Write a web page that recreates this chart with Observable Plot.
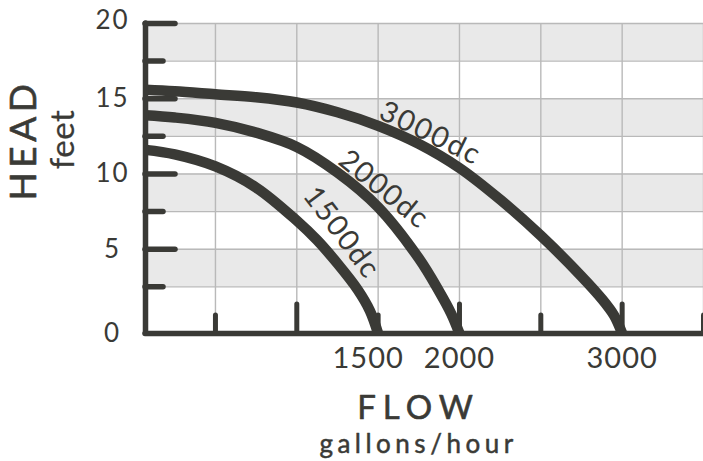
<!DOCTYPE html>
<html><head><meta charset="utf-8">
<script src="https://cdn.jsdelivr.net/npm/d3@7"></script>
<script src="https://cdn.jsdelivr.net/npm/@observablehq/plot@0.6"></script>
<style>
html,body{margin:0;padding:0;background:#fff}
svg{display:block}
</style>
</head><body><div id="chart"></div>
<script>
// ---- data ----
const axisHead = -0.6;          // head value where the x axis line sits
const flowMin = 70, flowMax = 3500, headMax = 20;

const flow1500 = [70, 250, 500, 750, 1000, 1125, 1250, 1375, 1450, 1500];
const head1500 = [11.6, 11.3, 10.5, 9.1, 6.9, 5.6, 4.05, 2.3, 0.9, -0.6];

const flow2000 = [70, 250, 500, 750, 1000, 1250, 1500, 1750, 1875, 1950, 2000];
const head2000 = [13.9, 13.75, 13.4, 12.75, 11.8, 10.1, 7.8, 4.4, 2.2, 0.7, -0.6];

const flow3000 = [70, 250, 500, 750, 1000, 1250, 1500, 1750, 2000, 2250, 2500, 2750, 2875, 2950, 3000];
const head3000 = [15.6, 15.5, 15.3, 15.1, 14.75, 14.1, 13.2, 12.0, 10.4, 8.3, 5.9, 3.2, 1.7, 0.6, -0.6];

const seriesNames = ["1500dc", "2000dc", "3000dc"];
const labelFlow = [1275, 1536, 1822];
const labelHead = [6.1, 8.97, 12.7];

const yMajor = [5, 10, 15, 20];
const yMinor = [2.5, 7.5, 12.5, 17.5];
const yLabels = [0, 5, 10, 15, 20];
const xMajor = [1000, 2000, 3000];
const xMinor = [500, 1500, 2500, 3500];
const xGrid = [500, 1000, 1500, 2000, 2500, 3000, 3500];
const yGrid = [2.5, 5, 7.5, 10, 12.5, 15, 17.5, 20];
const bandStart = [2.5, 7.5, 12.5, 17.5];
const bandEnd = [5, 10, 15, 20];
const xLabels = [1500, 2000, 3000];

// ---- build ----
const ink = "#3a3a36";
const font = "Lato, 'Noto Sans', sans-serif";
const toRows = (name, fs, hs) => fs.map((f, i) => ({name, flow: f, head: hs[i]}));
const curves = [
  ...toRows("1500dc", flow1500, head1500),
  ...toRows("2000dc", flow2000, head2000),
  ...toRows("3000dc", flow3000, head3000)
];
const labels = seriesNames.map((n, i) => ({name: n, flow: labelFlow[i], head: labelHead[i]}));
const bands = bandStart.map((s, i) => ({y1: s, y2: bandEnd[i]}));
const txt = {fill: ink, textAnchor: "middle", lineAnchor: "middle"};

const chart = Plot.plot({
  width: 703,
  height: 461,
  marginLeft: 145,
  marginRight: 0,
  marginTop: 23,
  marginBottom: 128,
  style: {fontFamily: font, color: ink, background: "#fff", overflow: "visible"},
  x: {domain: [flowMin, flowMax], axis: null},
  y: {domain: [axisHead, headMax], axis: null},
  marks: [
    Plot.rectY(bands, {x1: flowMin, x2: flowMax, y1: "y1", y2: "y2", fill: "#e9e9e9"}),
    Plot.ruleY(yGrid, {x1: flowMin, x2: flowMax, stroke: "#b9b9b9", strokeWidth: 1.4}),
    Plot.ruleX(xGrid, {y1: axisHead, y2: headMax, stroke: "#b9b9b9", strokeWidth: 1.4}),
    // ticks
    Plot.axisY(yMajor, {anchor: "left", tickSize: -30, tickFormat: () => "", stroke: ink, strokeWidth: 5.5, strokeLinecap: "round", label: null}),
    Plot.axisY(yMinor, {anchor: "left", tickSize: -18, tickFormat: () => "", stroke: ink, strokeWidth: 5.5, strokeLinecap: "round", label: null}),
    Plot.axisX(xMajor, {anchor: "bottom", tickSize: -29, tickFormat: () => "", stroke: ink, strokeWidth: 5, strokeLinecap: "round", label: null}),
    Plot.axisX(xMinor, {anchor: "bottom", tickSize: -18, tickFormat: () => "", stroke: ink, strokeWidth: 5, strokeLinecap: "round", label: null}),
    // curves
    Plot.line(curves, {x: "flow", y: "head", z: "name", stroke: ink, strokeWidth: 10.5, curve: "catmull-rom", strokeLinecap: "butt"}),
    // axis lines
    Plot.ruleX([flowMin], {y1: axisHead, y2: headMax, stroke: ink, strokeWidth: 5.5, strokeLinecap: "round"}),
    Plot.ruleY([axisHead], {x1: flowMin, x2: flowMax, stroke: ink, strokeWidth: 5.5, strokeLinecap: "round"}),
    // curve labels
    Plot.text(labels.filter(d => d.name === "1500dc"), {x: "flow", y: "head", text: "name", rotate: 53, fontSize: 29, ...txt}),
    Plot.text(labels.filter(d => d.name === "2000dc"), {x: "flow", y: "head", text: "name", rotate: 39, fontSize: 29, ...txt}),
    Plot.text(labels.filter(d => d.name === "3000dc"), {x: "flow", y: "head", text: "name", rotate: 26, fontSize: 29, ...txt}),
    // tick labels
    Plot.text(yLabels.filter(d => d !== 20), {y: d => d === 0 ? axisHead : d, frameAnchor: "left", dx: -33, text: d => String(d), fontSize: 26, ...txt}),
    Plot.text(yLabels.filter(d => d === 20), {y: d => d, frameAnchor: "left", dx: -33, dy: -3, text: d => String(d), fontSize: 26, ...txt}),
    Plot.text(xLabels.filter(d => d === 1500), {x: d => d, frameAnchor: "bottom", dy: 25.6, dx: -10, text: d => String(d), fontSize: 29, ...txt}),
    Plot.text(xLabels.filter(d => d !== 1500), {x: d => d, frameAnchor: "bottom", dy: 25.6, text: d => String(d), fontSize: 29, ...txt}),
    // axis titles
    Plot.text(["FLOW"], {frameAnchor: "bottom", dx: -6, dy: 74.8, text: d => d, fontSize: 33, stroke: ink, strokeWidth: 0.6, ...txt}),
    Plot.text(["gallons/hour"], {frameAnchor: "bottom", dx: -6, dy: 110.7, text: d => d, fontSize: 26, stroke: ink, strokeWidth: 0.5, ...txt}),
    Plot.text(["HEAD"], {frameAnchor: "left", dx: -121.8, dy: -38.5, rotate: -90, text: d => d, fontSize: 37, stroke: ink, strokeWidth: 0.6, ...txt}),
    Plot.text(["feet"], {frameAnchor: "left", dx: -81.6, dy: -39, rotate: -90, text: d => d, fontSize: 33, stroke: ink, strokeWidth: 0.2, ...txt})
  ]
});

// letter spacing (Plot has no option for it); make sure every label is centred
const spacing = {"FLOW": 7, "gallons/hour": 4.5, "HEAD": 4.5, "feet": 0.5,
  "1500dc": 1.5, "2000dc": 1.5, "3000dc": 2, "0": 2, "5": 2, "10": 2, "15": 2, "20": 2,
  "1500": 1, "2000": 1, "3000": 1};
d3.select(chart).selectAll("text").each(function() {
  const s = spacing[this.textContent];
  if (s != null) {
    this.style.letterSpacing = s + "px";
    this.setAttribute("text-anchor", "middle");
  }
});
document.getElementById("chart").appendChild(chart);
</script>
</body></html>
